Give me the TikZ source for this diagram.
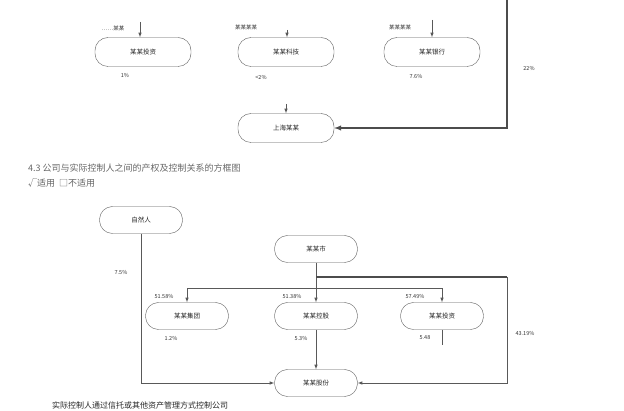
\documentclass[tikz,border=0pt]{standalone}
\usepackage{fontspec}
\newfontfamily\cjk{Noto Sans CJK SC}
\usepackage{xcolor}

\tikzset{
  entity/.style={draw=black!65,rounded corners=13pt,minimum width=96pt,minimum height=29pt,inner sep=0pt,font=\cjk\fontsize{6.5}{7}\selectfont,text=black!85},
  entitysm/.style={entity,minimum width=83pt,minimum height=27pt},
  share/.style={font=\cjk\fontsize{5.5}{6}\selectfont,text=black!80,inner sep=0pt},
  link/.style={draw=black!65,line width=0.6pt,-latex},
  caption/.style={font=\cjk\fontsize{9}{11}\selectfont,text=black!60,anchor=west,inner sep=0pt}
}

\begin{document}
\begin{tikzpicture}[x=1pt,y=-1pt]
\useasboundingbox (0,0) rectangle (624,411);

% Upper chart: holders
\node[entity] (holderA) at (143,52) {某某投资};
\node[entity] (holderB) at (286,52) {某某科技};
\node[entity] (holderC) at (432,52) {某某银行};
\node[entity] (upperco) at (286,128) {上海某某};

% Upper chart: incoming lines
\coordinate (inA) at (140,22);
\coordinate (inB) at (287,30);
\coordinate (inC) at (432,20);
\coordinate (inD) at (286,104);
\coordinate (rtop) at (507,0);
\draw[link] (inA) -- (inA |- holderA.north);
\draw[link] (inB) -- (inB |- holderB.north);
\draw[link] (inC) -- (inC |- holderC.north);
\draw[link] (inD) -- (upperco);
\draw[link,line width=1.4pt,draw=black!70] (rtop) |- (upperco);

% Upper chart: labels
\node[share] (lblA) at (113,28) {……某某};
\node[share] (lblB) at (246,27) {某某某某};
\node[share] (lblC) at (400,27) {某某某某};
\node[share] (pctA) at (125,75) {1\%};
\node[share] (pctB) at (261,77) {<2\%};
\node[share] (pctC) at (416,76) {7.6\%};
\node[share] (pctR) at (529,68) {22\%};

% Captions
\node[caption] (sec) at (28,168) {4.3 公司与实际控制人之间的产权及控制关系的方框图};
\node[caption] (opt) at (28,183) {√适用\ \ □不适用};

% Lower chart: nodes
\node[entitysm] (person) at (141,220) {自然人};
\node[entitysm] (city) at (316,249) {某某市};
\node[entitysm] (grpI) at (187,316) {某某集团};
\node[entitysm] (grpJ) at (316,316) {某某控股};
\node[entitysm] (grpG) at (442,316) {某某投资};
\node[entitysm] (listed) at (316,383) {某某股份};

% Lower chart: connections
\coordinate (split) at (316,277);
\coordinate (rbend) at (507,277);
\coordinate (bus) at (316,288);
\coordinate (stubG) at (442,345);
\draw[link] (person) |- (listed);
\draw[link] (city) -- (grpJ);
\draw[link] (bus) -| (grpI);
\draw[link] (bus) -| (grpG);
\draw[link] (grpJ) -- (listed);
\draw[draw=black!65,line width=0.6pt] (grpG) -- (stubG);
\draw[draw=black!70,line width=1.4pt] (split) -- (rbend);
\draw[link] (rbend) |- (listed);

% Lower chart: labels
\node[share] (pctP) at (121,272) {7.5\%};
\node[share] (pctI) at (164,296) {51.58\%};
\node[share] (pctJ) at (292,296) {51.38\%};
\node[share] (pctG) at (415,296) {57.49\%};
\node[share] (subI) at (171,338) {1.2\%};
\node[share] (subJ) at (301,338) {5.3\%};
\node[share] (subG) at (425,338) {5.48};
\node[share] (pctR2) at (525,333) {43.19\%};

% Line at the bottom
\node[caption,text=black!85,font=\cjk\fontsize{8}{9}\selectfont] (nextsec) at (52,405) {实际控制人通过信托或其他资产管理方式控制公司};
\end{tikzpicture}
\end{document}
